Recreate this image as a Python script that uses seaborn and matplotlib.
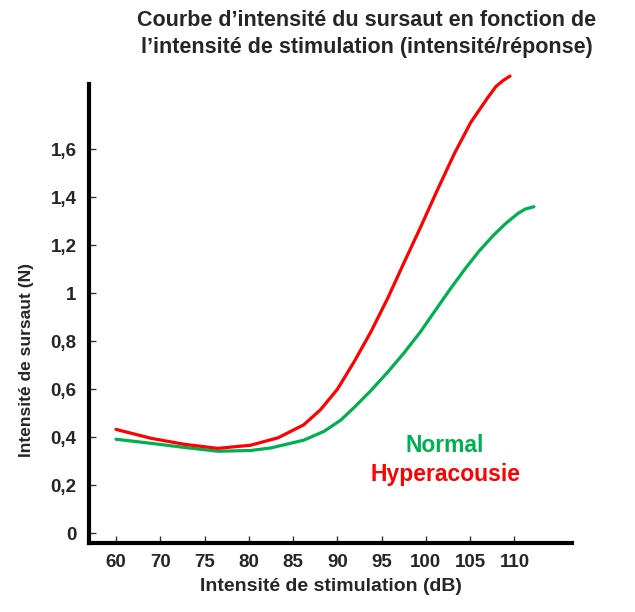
import numpy as np
import pandas as pd
import matplotlib
matplotlib.use("Agg")
import matplotlib.pyplot as plt
import seaborn as sns

# Tick positions on the stimulation axis (dB) and their labels
x_ticks = [60, 70, 75, 80, 85, 90, 95, 100, 105, 110]
y_ticks = [0, 0.2, 0.4, 0.6, 0.8, 1.0, 1.2, 1.4, 1.6]
y_tick_labels = ["0", "0,2", "0,4", "0,6", "0,8", "1", "1,2", "1,4", "1,6"]

# Startle response curves (stimulation dB -> startle intensity N)
normal_db = [60, 67.9, 72.7, 76.5, 80.2, 82.5, 86.2, 88.5, 90.4, 92.0, 93.8,
             95.7, 97.5, 99.4, 101.0, 102.8, 104.5, 106.0, 107.6, 109.0,
             110.4, 111.2, 112.2]
normal_val = [0.392, 0.375, 0.358, 0.342, 0.345, 0.356, 0.388, 0.425, 0.472, 0.528,
              0.595, 0.672, 0.75, 0.84, 0.925, 1.02, 1.105, 1.175, 1.24, 1.29,
              1.332, 1.35, 1.36]

hyper_db = [60, 67.9, 72.7, 76.5, 80.2, 83.3, 86.2, 88.1, 90.0, 91.9, 93.8,
            95.7, 97.5, 99.4, 101.3, 103.2, 105.05, 107.0, 107.9, 108.7, 109.5]
hyper_val = [0.433, 0.396, 0.371, 0.354, 0.367, 0.398, 0.452, 0.515, 0.60, 0.715,
             0.84, 0.98, 1.125, 1.275, 1.43, 1.58, 1.71, 1.815, 1.86, 1.885, 1.904]

df = pd.concat([
    pd.DataFrame({"dB": normal_db, "N": normal_val, "groupe": "Normal"}),
    pd.DataFrame({"dB": hyper_db, "N": hyper_val, "groupe": "Hyperacousie"}),
])

GREEN = "#00B050"
RED = "#FF0000"

sns.set_style("white")
plt.rcParams["font.family"] = ["Liberation Sans", "DejaVu Sans"]
plt.rcParams["font.weight"] = "bold"


# Stimulation axis: 10 dB for the first step, 5 dB for the following steps,
# all drawn with equal spacing
def fwd(x):
    x = np.asarray(x, dtype=float)
    return np.where(x <= 70, (x - 60) / 10.0, 1 + (x - 70) / 5.0)


def inv(u):
    u = np.asarray(u, dtype=float)
    return np.where(u <= 1, 60 + 10 * u, 70 + 5 * (u - 1))


fig = plt.figure(figsize=(6.35, 6.12), dpi=100)
ax = fig.add_axes([89 / 635, 1 - 543 / 612, (572 - 89) / 635, (543 - 65) / 612])
ax.set_xscale("function", functions=(fwd, inv))

sns.lineplot(data=df, x="dB", y="N", hue="groupe", sort=False,
             palette={"Normal": GREEN, "Hyperacousie": RED},
             hue_order=["Normal", "Hyperacousie"],
             linewidth=2.3, legend=False, ax=ax)

ax.set_xlim(53.9, 116.5)
ax.set_ylim(-0.04, 1.95)

for side in ("top", "right"):
    ax.spines[side].set_visible(False)
for side in ("left", "bottom"):
    ax.spines[side].set_linewidth(3.0)
    ax.spines[side].set_color("black")
ax.spines["left"].set_bounds(-0.04, 1.87)

ax.set_xticks(x_ticks)
ax.set_xticklabels([str(t) for t in x_ticks])
ax.set_yticks(y_ticks)
ax.set_yticklabels(y_tick_labels)
ax.minorticks_off()
ax.tick_params(axis="both", direction="in", length=5, width=1, color="#333333",
               left=True, bottom=True)
ax.tick_params(axis="y", pad=9, labelsize=13.5)
ax.tick_params(axis="x", pad=8, labelsize=13.5)
for lab in ax.get_xticklabels() + ax.get_yticklabels():
    lab.set_fontweight("bold")

ax.set_xlabel("Intensité de stimulation (dB)", fontsize=14, fontweight="bold",
              labelpad=5)
ax.set_ylabel("")
fig.text(27 / 635, 1 - 360 / 612, "Intensité de sursaut (N)", rotation=90,
         ha="center", va="center", fontsize=12.5, fontweight="bold")

fig.text(367 / 635, 1 - 34 / 612,
         "Courbe d’intensité du sursaut en fonction de\n"
         "l’intensité de stimulation (intensité/réponse)",
         ha="center", va="center", fontsize=15.5, fontweight="bold",
         linespacing=1.35)

fig.text(445 / 635, 1 - 445 / 612, "Normal", color=GREEN, ha="center",
         va="center", fontsize=16.5, fontweight="bold")
fig.text(445 / 635, 1 - 475 / 612, "Hyperacousie", color=RED, ha="center",
         va="center", fontsize=16.5, fontweight="bold")

fig.savefig("out.png", dpi=100)
